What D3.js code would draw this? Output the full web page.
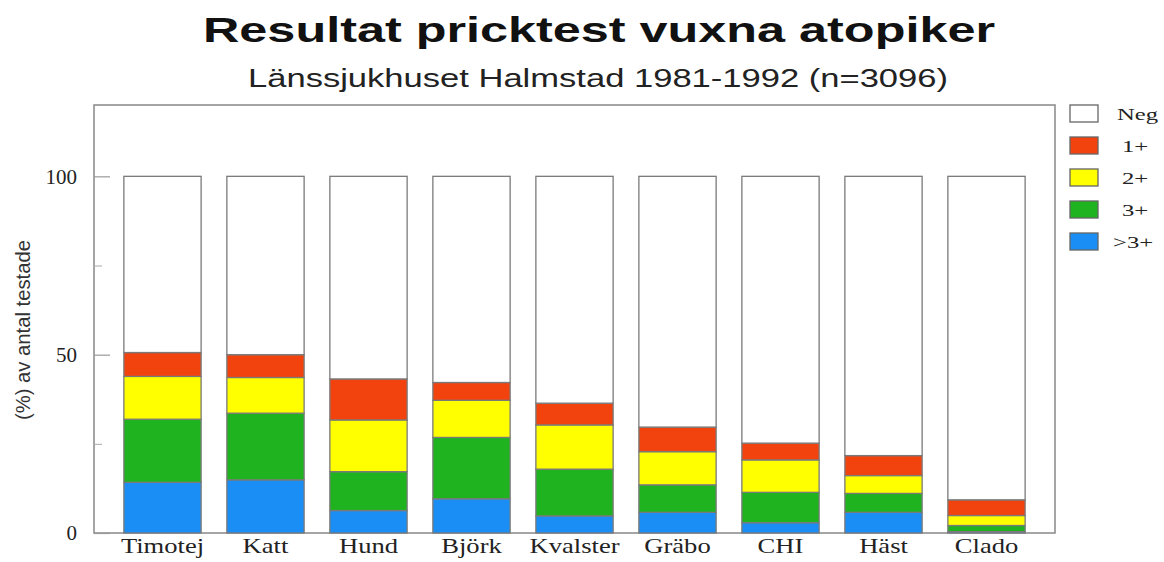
<!DOCTYPE html>
<html>
<head>
<meta charset="utf-8">
<script src="https://cdn.jsdelivr.net/npm/d3@7"></script>
<style>
  body { margin: 0; background: #fff; }
  .tick-lbl { font-family: 'Liberation Serif', 'Times New Roman', serif; }
</style>
</head>
<body>
<div id="chart"></div>
<script>
const categories = ['Timotej', 'Katt', 'Hund', 'Björk', 'Kvalster', 'Gräbo', 'CHI', 'Häst', 'Clado'];
const over3 = [14.2, 14.9, 6.3, 9.6, 4.8, 5.8, 2.9, 5.8, 0.4];
const plus3 = [17.7, 18.7, 10.9, 17.2, 13.1, 7.7, 8.5, 5.3, 1.7];
const plus2 = [12.0, 10.0, 14.5, 10.4, 12.4, 9.3, 9.1, 5.0, 2.8];
const plus1 = [6.7, 6.4, 11.5, 5.0, 6.1, 6.9, 4.7, 5.6, 4.4];
const neg = [49.4, 50.0, 56.8, 57.8, 63.6, 70.3, 74.8, 78.3, 90.7];
const seriesNames = ['>3+', '3+', '2+', '1+', 'Neg'];
const legendOrder = ['Neg', '1+', '2+', '3+', '>3+'];
const majorTicks = [0, 50, 100];
const minorTicks = [25, 75];

const colors = {
    '>3+': '#1b8ef6',
    '3+': '#1fb41f',
    '2+': '#ffff00',
    '1+': '#f2420e',
    'Neg': '#ffffff'
};

const data = categories.map((c, i) => ({
    cat: c,
    '>3+': over3[i],
    '3+': plus3[i],
    '2+': plus2[i],
    '1+': plus1[i],
    'Neg': neg[i]
}));

const width = 1164, height = 562;
const plot = {left: 94, right: 1055, top: 105, bottom: 533};

const svg = d3.select('#chart').append('svg')
    .attr('width', width)
    .attr('height', height);

// titles
svg.append('text')
    .attr('x', 599).attr('y', 42)
    .attr('text-anchor', 'middle')
    .attr('font-family', 'Liberation Sans, Arial, sans-serif')
    .attr('font-weight', 'bold')
    .attr('font-size', 35)
    .attr('textLength', 792)
    .attr('lengthAdjust', 'spacingAndGlyphs')
    .attr('fill', '#111')
    .text('Resultat pricktest vuxna atopiker');

svg.append('text')
    .attr('x', 598).attr('y', 87)
    .attr('text-anchor', 'middle')
    .attr('font-family', 'Liberation Sans, Arial, sans-serif')
    .attr('font-size', 26)
    .attr('textLength', 700)
    .attr('lengthAdjust', 'spacingAndGlyphs')
    .attr('fill', '#222')
    .text('Länssjukhuset Halmstad 1981-1992 (n=3096)');

const xScale = d3.scaleBand()
    .domain(categories)
    .range([plot.left, plot.right])
    .paddingInner(0.25)
    .paddingOuter(0.29);

const yScale = d3.scaleLinear()
    .domain([0, 120])
    .range([plot.bottom, plot.top]);

// frame
svg.append('rect')
    .attr('x', plot.left).attr('y', plot.top)
    .attr('width', plot.right - plot.left)
    .attr('height', plot.bottom - plot.top)
    .attr('fill', 'none')
    .attr('stroke', '#888')
    .attr('stroke-width', 1.5);

// stacked bars
const stack = d3.stack().keys(seriesNames);
const layers = stack(data);

svg.append('g').selectAll('g')
    .data(layers)
    .enter()
    .append('g')
    .attr('fill', d => colors[d.key])
    .selectAll('rect')
    .data(d => d)
    .enter()
    .append('rect')
    .attr('x', d => xScale(d.data.cat))
    .attr('y', d => yScale(d[1]))
    .attr('width', xScale.bandwidth())
    .attr('height', d => yScale(d[0]) - yScale(d[1]))
    .attr('stroke', '#7a7a7a')
    .attr('stroke-width', 1.3);

// y axis
const yAxis = d3.axisLeft(yScale)
    .tickValues(majorTicks)
    .tickSize(-16)
    .tickPadding(17);

const yAxisGroup = svg.append('g')
    .attr('transform', `translate(${plot.left}, 0)`)
    .call(yAxis);
yAxisGroup.select('.domain').remove();
yAxisGroup.selectAll('line').attr('stroke', '#999').attr('stroke-width', 1.2);
yAxisGroup.selectAll('text')
    .attr('class', 'tick-lbl')
    .attr('font-size', 21)
    .attr('fill', '#222');

const yMinor = svg.append('g')
    .attr('transform', `translate(${plot.left}, 0)`)
    .call(d3.axisLeft(yScale).tickValues(minorTicks).tickSize(-8).tickFormat(''));
yMinor.select('.domain').remove();
yMinor.selectAll('line').attr('stroke', '#aaa').attr('stroke-width', 1);

svg.append('text')
    .attr('transform', 'translate(30, 330) rotate(-90)')
    .attr('text-anchor', 'middle')
    .attr('font-family', 'Liberation Sans Narrow, Arial Narrow, Liberation Sans, sans-serif')
    .attr('font-size', 20)
    .attr('textLength', 180)
    .attr('lengthAdjust', 'spacingAndGlyphs')
    .attr('fill', '#333')
    .text('(%) av antal testade');

// x axis
const xAxisGroup = svg.append('g')
    .attr('transform', `translate(0, ${plot.bottom})`)
    .call(d3.axisBottom(xScale).tickSize(0).tickPadding(6));
xAxisGroup.select('.domain').remove();
xAxisGroup.selectAll('text')
    .attr('class', 'tick-lbl')
    .attr('font-size', 20)
    .attr('transform', 'scale(1.33, 1)')
    .attr('fill', '#222');

// legend
const legend = svg.append('g').selectAll('g')
    .data(legendOrder)
    .enter()
    .append('g')
    .attr('transform', (d, i) => `translate(1070, ${105 + i * 32})`);

legend.append('rect')
    .attr('width', 28)
    .attr('height', 17)
    .attr('fill', d => colors[d])
    .attr('stroke', '#666')
    .attr('stroke-width', 1.3);

legend.append('text')
    .attr('transform', d => `translate(${d === 'Neg' ? 47 : d === '>3+' ? 43 : 52}, 15) scale(1.45, 1)`)
    .attr('class', 'tick-lbl')
    .attr('font-size', 17)
    .attr('fill', '#222')
    .text(d => d);
</script>
</body>
</html>
